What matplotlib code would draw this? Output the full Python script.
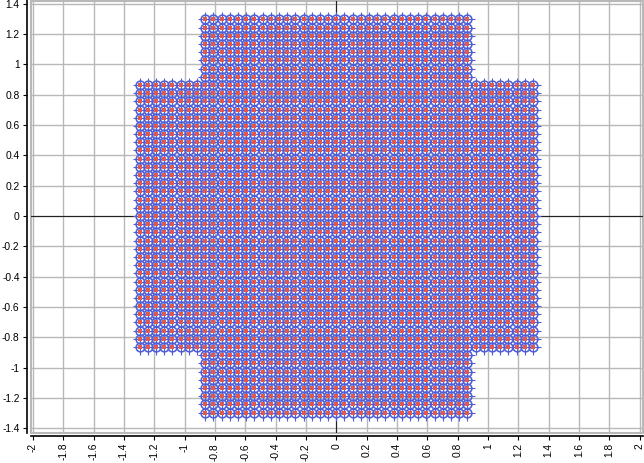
import numpy as np
import matplotlib
matplotlib.use("Agg")
import matplotlib.pyplot as plt
from matplotlib.patches import Rectangle

plt.rcParams['font.family'] = ['Liberation Sans', 'DejaVu Sans']

# grid positions
low_side = [-1.296, -1.242, -1.188, -1.134, -1.080, -1.026, -0.972, -0.918]
centre = [-0.864, -0.810, -0.756, -0.702, -0.648, -0.594, -0.540, -0.486, -0.432,
          -0.378, -0.324, -0.270, -0.216, -0.162, -0.108, -0.054, 0.0,
          0.054, 0.108, 0.162, 0.216, 0.270, 0.324, 0.378, 0.432,
          0.486, 0.540, 0.594, 0.648, 0.702, 0.756, 0.810, 0.864]
high_side = [0.918, 0.972, 1.026, 1.080, 1.134, 1.188, 1.242, 1.296]

x_ticks = [-2, -1.8, -1.6, -1.4, -1.2, -1, -0.8, -0.6, -0.4, -0.2, 0,
           0.2, 0.4, 0.6, 0.8, 1, 1.2, 1.4, 1.6, 1.8, 2]
y_ticks = [-1.4, -1.2, -1, -0.8, -0.6, -0.4, -0.2, 0,
           0.2, 0.4, 0.6, 0.8, 1, 1.2, 1.4]

BLUE = '#4f5fd6'
RED = '#e2594c'
GRID = '#b8b8b8'
W, H = 644, 463

# tall block of the cross, then the two side blocks
tall_x, tall_y = np.meshgrid(centre, low_side + centre + high_side)
left_x, left_y = np.meshgrid(low_side, centre)
right_x, right_y = np.meshgrid(high_side, centre)
xs = np.concatenate([tall_x.ravel(), left_x.ravel(), right_x.ravel()])
ys = np.concatenate([tall_y.ravel(), left_y.ravel(), right_y.ravel()])

fig = plt.figure(figsize=(W / 100, H / 100), dpi=100)
px_left, px_right, px_top, px_bottom = 31, 643, 0.5, 432.5
ax = fig.add_axes([px_left / W, 1 - px_bottom / H,
                   (px_right - px_left) / W, (px_bottom - px_top) / H])

# scale is 151.7 px per unit, origin at (336.3, 216)
ax.set_xlim((px_left - 336.3) / 151.7, (px_right - 336.3) / 151.7)
ax.set_ylim((216 - px_bottom) / 151.7, (216 - px_top) / 151.7)

ax.set_xticks(x_ticks)
ax.set_xticklabels([f'{v:g}' for v in x_ticks])
ax.set_yticks(y_ticks)
ax.set_yticklabels([f'{v:g}' for v in y_ticks])
ax.tick_params(length=3, width=0.8, color='black', labelsize=7.4, pad=2)
ax.tick_params(axis='x', labelrotation=90, pad=2)
ax.grid(True, color=GRID, linewidth=1.0)
ax.set_axisbelow(True)

for side in ('top', 'right'):
    ax.spines[side].set_visible(False)
ax.spines['left'].set_position(('outward', 4.5 * 0.72))
ax.spines['bottom'].set_position(('outward', 3.5 * 0.72))
for side in ('left', 'bottom'):
    ax.spines[side].set_linewidth(1.2)
    ax.spines[side].set_color('black')

ax.add_patch(Rectangle((0, 0), 1, 1, transform=ax.transAxes, fill=False,
                       edgecolor=GRID, linewidth=1.5, clip_on=False, zorder=1))

ax.axhline(0, color='#222222', linewidth=0.8, zorder=1.5)
ax.axvline(0, color='#222222', linewidth=0.8, zorder=1.5)

ax.plot(xs, ys, linestyle='none', marker='+', color=BLUE, markersize=10.8,
        markeredgewidth=0.8, antialiased=False, zorder=2)
ax.plot(xs, ys, linestyle='none', marker='o', markerfacecolor='none',
        markeredgecolor=BLUE, markersize=6.3, markeredgewidth=1.15, zorder=3)
ax.plot(xs, ys, linestyle='none', marker='s', color=RED, markersize=2.7,
        markeredgewidth=0, zorder=4)

fig.savefig('out.png', dpi=100)
